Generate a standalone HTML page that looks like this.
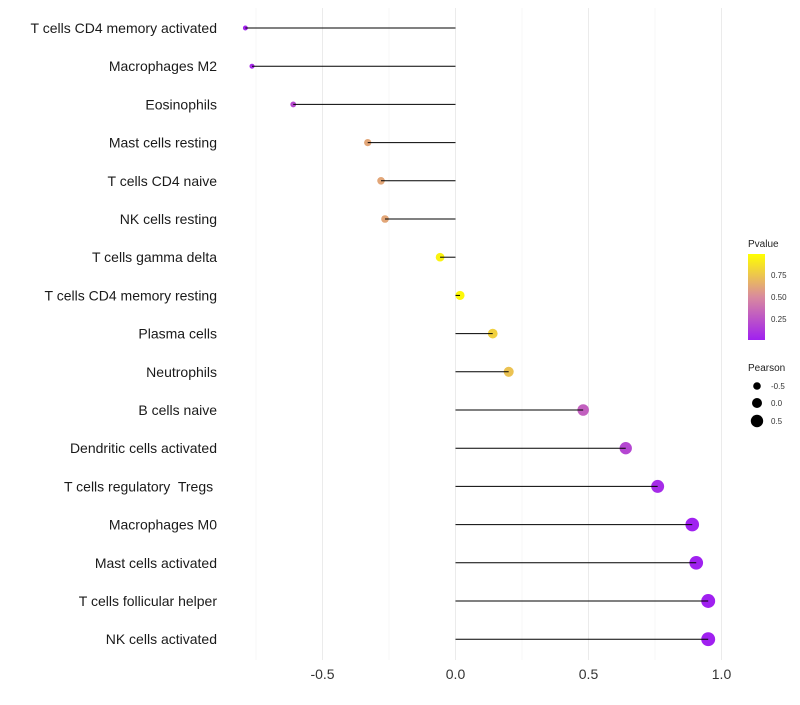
<!DOCTYPE html>
<html><head><meta charset="utf-8"><style>
body{margin:0;background:#fff}
svg text{font-family:"Liberation Sans",Arial,sans-serif;white-space:pre}
</style></head><body>
<svg id="chart" width="800" height="700" xmlns="http://www.w3.org/2000/svg">
<defs><linearGradient id="pg" x1="0" y1="1" x2="0" y2="0">
<stop offset="0" stop-color="#a020f0"/><stop offset="0.5" stop-color="#d98a9e"/><stop offset="1" stop-color="#ffff00"/>
</linearGradient></defs>
<g id="grid"></g>
<g id="dots"></g>
<g id="marks"></g>
<g id="labels"></g>
<g id="xt"></g>
<g>
<text x="748" y="247" font-size="10" fill="#222">Pvalue</text>
<rect x="748" y="254" width="17" height="86" fill="url(#pg)"/>
<text x="771" y="278" font-size="8" fill="#333">0.75</text>
<text x="771" y="300" font-size="8" fill="#333">0.50</text>
<text x="771" y="322" font-size="8" fill="#333">0.25</text>
</g>
<g>
<text x="748" y="371" font-size="10" fill="#222">Pearson</text>
<circle cx="757" cy="386" r="3.8" fill="#000"/><text x="771" y="389" font-size="8" fill="#333">-0.5</text>
<circle cx="757" cy="403" r="5" fill="#000"/><text x="771" y="406" font-size="8" fill="#333">0.0</text>
<circle cx="757" cy="421" r="6.2" fill="#000"/><text x="771" y="424" font-size="8" fill="#333">0.5</text>
</g>
</svg>
<script>
const categories=["T cells CD4 memory activated","Macrophages M2","Eosinophils","Mast cells resting","T cells CD4 naive","NK cells resting","T cells gamma delta","T cells CD4 memory resting","Plasma cells","Neutrophils","B cells naive","Dendritic cells activated","T cells regulatory  Tregs ","Macrophages M0","Mast cells activated","T cells follicular helper","NK cells activated"];
const pearson=[-0.79,-0.765,-0.61,-0.33,-0.28,-0.265,-0.058,0.017,0.14,0.2,0.48,0.64,0.76,0.89,0.905,0.95,0.95];
const pvalue=[0.02,0.05,0.2,0.62,0.62,0.62,0.95,0.97,0.8,0.74,0.3,0.18,0.05,0.003,0.003,0.001,0.001];
const xTicks=[-0.5,0,0.5,1.0];
const xTickLabels=["-0.5","0.0","0.5","1.0"];
const xMinor=[-0.75,-0.25,0.25,0.75];
const NS="http://www.w3.org/2000/svg";
const x=v=>455.5+v*266;
const y=i=>28+i*38.2;
const r=v=>4.5+2.6*v;
function lerp(a,b,t){return Math.round(a+(b-a)*t);}
function col(p){const s=[[160,32,240],[217,138,158],[255,255,0]];let t=p*2,a=s[0],b=s[1];if(p>0.5){t=p*2-1;a=s[1];b=s[2];}return `rgb(${lerp(a[0],b[0],t)},${lerp(a[1],b[1],t)},${lerp(a[2],b[2],t)})`;}
function mk(tag,at,parent){const e=document.createElementNS(NS,tag);for(const k in at)e.setAttribute(k,at[k]);document.getElementById(parent).appendChild(e);return e;}
xMinor.forEach(v=>{const l=mk('line',{x1:x(v),x2:x(v),y1:8,y2:660,stroke:'#f2f2f2','stroke-width':0.6},'grid');

});
xTicks.forEach((v,i)=>{const l=mk('line',{x1:x(v),x2:x(v),y1:8,y2:660,stroke:'#ebebeb','stroke-width':1},'grid');


const t=mk('text',{x:x(v),y:679,'font-size':14,'text-anchor':'middle',fill:'#333'},'xt');t.textContent=xTickLabels[i];

});
categories.forEach((c,i)=>{
const t=mk('text',{x:217,y:y(i)+5,'font-size':14,'text-anchor':'end',fill:'#1a1a1a'},'labels');t.textContent=c;


const d=mk('circle',{cx:x(pearson[i]),cy:y(i),r:r(pearson[i]),fill:col(pvalue[i])},'dots');


const l=mk('line',{x1:x(0),x2:x(pearson[i]),y1:y(i),y2:y(i),stroke:'#000','stroke-width':1},'marks');


});
</script>
</body></html>
